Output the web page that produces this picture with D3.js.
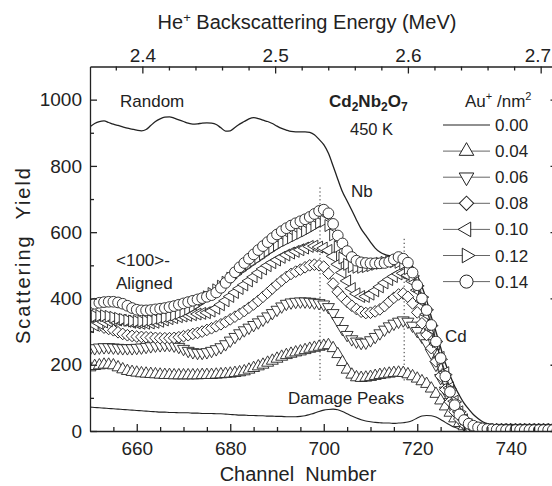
<!DOCTYPE html>
<html>
<head>
<meta charset="utf-8">
<script src="https://cdn.jsdelivr.net/npm/d3@7"></script>
<style>
  body { margin: 0; background: #fff; }
  text { font-family: "Liberation Sans", Arial, Helvetica, sans-serif; fill: #222; }
  .axis path, .axis line { stroke: #222; stroke-width: 1.3; }
</style>
</head>
<body>
<div id="chart"></div>
<script>
// channel numbers 650..750, one point per channel
const channels = d3.range(650, 751);

// random spectrum (legend 0.00)
const random = [
  918,928,934,936,931,926,922,918,914,911,
  908,906,910,922,934,942,947,948,944,939,
  934,929,926,927,929,930,929,925,915,905,
  906,916,926,934,942,946,943,938,934,928,
  920,913,908,904,903,903,903,901,894,880,
  864,838,800,760,722,694,666,637,610,590,
  570,552,540,533,529,527,526,522,514,497,
  470,436,395,345,300,252,205,168,135,108,
  84,66,50,38,28,22,19,17,16,16,
  16,15,15,15,15,15,15,15,15,15,15];

// unirradiated <100> aligned spectrum
const virgin = [
  72,71,70,69,68,67,66,65,64,63,
  62,61,60,59,58,57,57,56,56,55,
  55,55,54,54,53,53,53,52,52,51,
  50,49,48,48,47,47,46,46,45,45,
  44,44,43,43,43,44,46,50,54,59,
  63,65,66,64,59,52,45,39,34,30,
  28,26,25,24,24,23,24,25,27,32,
  39,45,47,46,42,35,26,18,11,7,
  5,4,3,3,3,3,3,3,3,3,
  3,3,3,3,3,3,3,3,3,3,3];

const d004 = [
  192,196,198,200,200,198,192,186,181,178,
  176,174,173,172,171,170,169,169,168,168,
  168,168,168,168,169,169,169,170,171,172,
  173,175,177,180,185,190,195,200,206,212,
  218,224,229,233,237,240,244,248,251,254,
  257,259,250,232,208,185,170,162,160,161,
  163,166,169,171,173,175,176,175,171,165,
  158,150,142,128,112,92,74,55,38,24,
  14,8,5,4,3,3,3,3,3,3,
  3,3,3,3,3,3,3,3,3,3,3];

const d006 = [
  248,250,252,253,253,252,251,250,250,250,
  251,252,254,256,258,259,260,260,258,254,
  248,242,238,236,236,238,242,247,253,262,
  273,284,295,304,312,320,328,336,346,356,
  366,376,384,388,390,391,391,390,388,386,
  382,374,356,332,308,290,277,270,266,267,
  274,284,295,306,316,324,330,334,330,318,
  302,285,265,236,200,160,122,88,60,38,
  22,12,7,5,4,3,3,3,3,3,
  3,3,3,3,3,3,3,3,3,3,3];

const d008 = [
  335,326,318,312,308,304,298,293,289,287,
  285,284,283,282,281,280,280,280,281,283,
  286,289,293,296,300,305,310,316,322,329,
  337,345,353,362,372,382,393,405,417,430,
  442,454,465,474,481,487,494,500,502,500,
  496,475,445,420,404,390,378,368,360,356,
  357,361,367,377,390,402,412,415,405,385,
  358,325,290,250,210,166,125,88,58,36,
  20,11,7,5,4,3,3,3,3,3,
  3,3,3,3,3,3,3,3,3,3,3];

const d010 = [
  315,320,325,329,332,334,335,334,331,328,
  326,325,325,326,328,331,335,339,342,345,
  347,349,351,353,355,357,362,370,381,393,
  406,418,430,441,453,465,477,489,499,508,
  516,524,531,537,542,547,552,557,558,555,
  552,545,527,503,478,453,430,414,406,406,
  413,423,435,447,457,466,474,476,470,452,
  425,392,352,308,262,222,176,130,90,58,
  34,19,11,7,5,4,3,3,3,3,
  3,3,3,3,3,3,3,3,3,3,3];

const d012 = [
  345,347,348,348,346,343,340,337,334,332,
  331,331,332,334,337,340,343,346,350,355,
  361,368,376,385,395,405,415,426,437,449,
  461,473,484,494,504,514,523,533,543,552,
  561,569,576,583,590,597,604,612,620,629,
  634,620,592,556,522,503,496,494,494,496,
  499,503,506,509,511,511,509,505,490,468,
  438,404,366,318,270,216,170,126,88,58,
  36,22,13,8,6,4,3,3,3,3,
  3,3,3,3,3,3,3,3,3,3,3];

const d014 = [
  380,384,387,389,390,390,388,384,378,371,
  366,364,364,365,367,369,371,374,377,381,
  385,389,393,397,401,405,410,418,432,447,
  463,479,494,507,520,533,546,558,570,582,
  593,603,612,620,627,633,639,646,655,664,
  668,657,625,590,566,543,525,514,509,507,
  506,506,506,507,511,518,525,520,508,478,
  440,400,365,320,270,220,165,118,78,50,
  33,22,16,11,8,6,5,4,3,3,
  3,3,3,3,3,3,3,3,3,3,3];

const fluences = ["0.04", "0.06", "0.08", "0.10", "0.12", "0.14"];
const shapes = ["up", "down", "diamond", "left", "right", "circle"];
const seriesValues = [d004, d006, d008, d010, d012, d014];

const xTicks = [660, 680, 700, 720, 740];
const xMinor = [655, 665, 670, 675, 685, 690, 695, 705, 710, 715, 725, 730, 735, 745];
const yTicks = [0, 200, 400, 600, 800, 1000];
const yMinor = [100, 300, 500, 700, 900];
const eTicks = [2.4, 2.5, 2.6, 2.7];
const eMinor = [2.38, 2.42, 2.44, 2.46, 2.48, 2.52, 2.54, 2.56, 2.58, 2.62, 2.64, 2.66, 2.68];
// energy calibration: channel of 2.4 MeV and 2.7 MeV
const calib = {ch0: 661.2, e0: 2.4, ch1: 746.4, e1: 2.7};
const damagePeaks = [699.2, 717.2];

const width = 552, height = 486;
const margin = {top: 66.5, left: 90, bottom: 431, right: 557.5};

const svg = d3.select("#chart").append("svg")
  .attr("width", width).attr("height", height);

const x = d3.scaleLinear().domain([650, 750]).range([margin.left, margin.right]);
const y = d3.scaleLinear().domain([0, 1100]).range([margin.bottom, margin.top]);
const chToE = d3.scaleLinear().domain([calib.ch0, calib.ch1]).range([calib.e0, calib.e1]);
const e = d3.scaleLinear().domain(x.domain().map(chToE)).range(x.range());

svg.append("clipPath").attr("id", "clip")
  .append("rect")
  .attr("x", margin.left).attr("y", margin.top)
  .attr("width", margin.right - margin.left)
  .attr("height", margin.bottom - margin.top);

const plot = svg.append("g").attr("clip-path", "url(#clip)");

const line = d3.line()
  .x((d, i) => x(channels[i]))
  .y(d => y(d))
  .curve(d3.curveMonotoneX);

plot.append("path").datum(random)
  .attr("d", line).attr("fill", "none").attr("stroke", "#222").attr("stroke-width", 1.3);
plot.append("path").datum(virgin)
  .attr("d", line).attr("fill", "none").attr("stroke", "#222").attr("stroke-width", 1.1);

plot.selectAll(".peak").data(damagePeaks).enter().append("line")
  .attr("x1", d => x(d)).attr("x2", d => x(d))
  .attr("y1", (d, i) => y(i ? 580 : 735)).attr("y2", y(150))
  .attr("stroke", "#333").attr("stroke-width", 1).attr("stroke-dasharray", "1.3,2.6");

function symbolPath(shape, big) {
  const k = big ? 1.5 : 1;
  if (shape === "circle") return d3.symbol(d3.symbolCircle, 90 * k)();
  if (shape === "diamond") return d3.symbol(d3.symbolSquare, 68 * k)();
  return d3.symbol(d3.symbolTriangle, 62 * k)();
}
function symbolRotate(shape) {
  return {up: 0, down: 180, left: -90, right: 90, diamond: 45, circle: 0}[shape];
}

seriesValues.forEach((vals, si) => {
  const g = plot.append("g");
  g.append("path").datum(vals)
    .attr("d", line).attr("fill", "none").attr("stroke", "#222").attr("stroke-width", 0.8);
  g.selectAll("path.m").data(vals).enter().append("path")
    .attr("class", "m")
    .attr("d", symbolPath(shapes[si], false))
    .attr("transform", (d, i) => `translate(${x(channels[i])},${y(d)}) rotate(${symbolRotate(shapes[si])})`)
    .attr("fill", "#fff").attr("stroke", "#222").attr("stroke-width", 0.9);
});

// axes
function addAxis(axis, transform, values, size, fmt, pad) {
  const g = svg.append("g").attr("class", "axis").attr("transform", transform)
    .call(axis.tickValues(values).tickSizeInner(size).tickSizeOuter(0).tickPadding(pad).tickFormat(fmt));
  g.selectAll("text").style("font-size", "19px").attr("fill", "#222");
  return g;
}
const noLabel = () => "";
addAxis(d3.axisBottom(x), `translate(0,${margin.bottom})`, xTicks, -7, d3.format("d"), 11);
addAxis(d3.axisBottom(x), `translate(0,${margin.bottom})`, xMinor, -4, noLabel, 11).select(".domain").remove();
addAxis(d3.axisLeft(y), `translate(${margin.left},0)`, yTicks, -7, d3.format("d"), 8);
addAxis(d3.axisLeft(y), `translate(${margin.left},0)`, yMinor, -4, noLabel, 8).select(".domain").remove();
addAxis(d3.axisRight(y), `translate(${margin.right},0)`, yTicks, -7, noLabel, 8);
addAxis(d3.axisRight(y), `translate(${margin.right},0)`, yMinor, -4, noLabel, 8).select(".domain").remove();
const topAxis = addAxis(d3.axisTop(e), `translate(0,${margin.top})`, eTicks, -7, d3.format(".1f"), 5);
// keep the last energy label inside the picture, as in the original
topAxis.selectAll(".tick text").filter(d => d === 2.7).attr("text-anchor", "end").attr("x", 10);
addAxis(d3.axisTop(e), `translate(0,${margin.top})`, eMinor, -4, noLabel, 5).select(".domain").remove();

// axis titles
svg.append("text").attr("x", 298).attr("y", 481).attr("text-anchor", "middle")
  .style("font-size", "20px").style("white-space", "pre").text("Channel  Number");
svg.append("text").attr("transform", "translate(30,256) rotate(-90)").attr("text-anchor", "middle")
  .style("font-size", "20px").style("white-space", "pre")
  .attr("textLength", 176).attr("lengthAdjust", "spacing").text("Scattering  Yield");
const ttl = svg.append("text").attr("x", 307).attr("y", 29).attr("text-anchor", "middle")
  .style("font-size", "20px");
ttl.append("tspan").text("He");
ttl.append("tspan").attr("dy", -7).style("font-size", "13px").text("+");
ttl.append("tspan").attr("dy", 7).text(" Backscattering Energy (MeV)");

// annotations
function note(tx, ty, str, size) {
  return svg.append("text").attr("x", tx).attr("y", ty).style("font-size", (size || 17) + "px").text(str);
}
note(120, 107, "Random");
note(116, 266, "<100>-");
note(116, 289, "Aligned");
note(351, 197, "Nb");
note(445, 342, "Cd");
note(288, 404, "Damage Peaks");
note(350, 135, "450 K", 16.5);

const form = svg.append("text").attr("x", 329).attr("y", 107)
  .style("font-size", "17px").style("font-weight", "bold");
[["Cd", 0], ["2", 1], ["Nb", 0], ["2", 1], ["O", 0], ["7", 1]].forEach(([t, sub], i) => {
  form.append("tspan").attr("dy", i === 0 ? 0 : (sub ? 4 : -4)).style("font-size", sub ? "12px" : "17px").text(t);
});

// legend
const leg = svg.append("g");
const hdr = leg.append("text").attr("x", 465).attr("y", 107).style("font-size", "17px");
hdr.append("tspan").text("Au");
hdr.append("tspan").attr("dy", -7).style("font-size", "11px").text("+");
hdr.append("tspan").attr("dy", 7).text(" /nm");
hdr.append("tspan").attr("dy", -7).style("font-size", "11px").text("2");

const legendLabels = ["0.00"].concat(fluences);
const legendShapes = [null].concat(shapes);
legendLabels.forEach((lab, i) => {
  const ry = 125 + i * 26.1;
  leg.append("line").attr("x1", 443).attr("x2", 490).attr("y1", ry).attr("y2", ry)
    .attr("stroke", i === 0 ? "#222" : "#666").attr("stroke-width", i === 0 ? 1.2 : 1);
  if (legendShapes[i]) {
    leg.append("path").attr("d", symbolPath(legendShapes[i], true))
      .attr("transform", `translate(466.5,${ry}) rotate(${symbolRotate(legendShapes[i])})`)
      .attr("fill", "#fff").attr("stroke", "#222").attr("stroke-width", 1);
  }
  leg.append("text").attr("x", 495).attr("y", ry + 6).style("font-size", "17px").text(lab);
});
</script>
</body>
</html>
